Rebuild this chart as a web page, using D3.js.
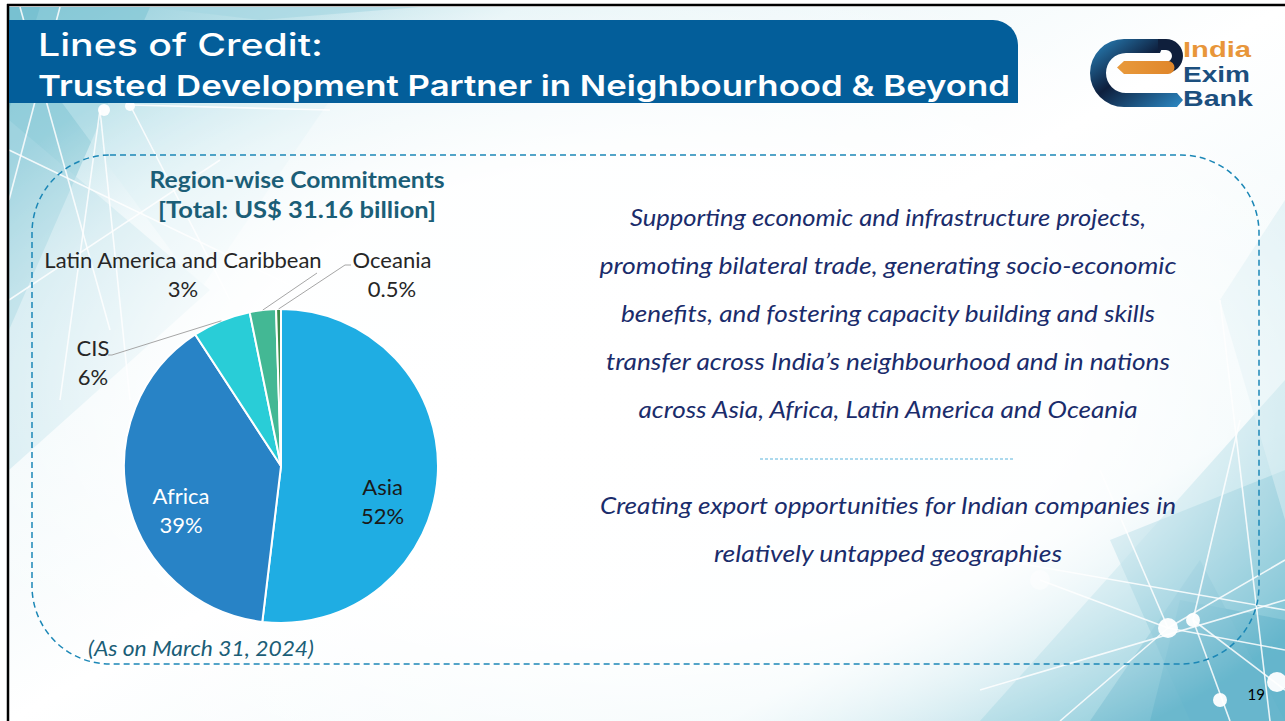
<!DOCTYPE html>
<html>
<head>
<meta charset="utf-8">
<script src="https://cdn.jsdelivr.net/npm/d3@7"></script>
<style>
  html, body { margin: 0; padding: 0; background: #fff; }
  svg { display: block; }
</style>
</head>
<body>
<div id="chart"></div>
<script>
// chart data
var regions = ["Asia", "Africa", "CIS", "Latin America and Caribbean", "Oceania"];
var shares = [51.9, 38.9, 6.0, 2.7, 0.5];
var shareLabels = ["52%", "39%", "6%", "3%", "0.5%"];
var sliceColors = ["#1fade3", "#2883c6", "#29cdd7", "#43b894", "#3d8c4b"];

var titleLines = ["Lines of Credit:", "Trusted Development Partner in Neighbourhood & Beyond"];
var chartTitle = ["Region-wise Commitments", "[Total: US$ 31.16 billion]"];
var bulletText = [
  "Supporting economic and infrastructure projects,",
  "promoting bilateral trade, generating socio-economic",
  "benefits, and fostering capacity building and skills",
  "transfer across India\u2019s neighbourhood and in nations",
  "across Asia, Africa, Latin America and Oceania"
];
var bulletText2 = [
  "Creating export opportunities for Indian companies in",
  "relatively untapped geographies"
];
var footnote = "(As on March 31, 2024)";
var pageNo = "19";

// measured text widths in the slide (px)
var bulletWidths = [516, 577, 534, 564, 499];
var bullet2Widths = [576, 348];
var chartTitleWidths = [295, 278];

var W = 1285, H = 721;
var svg = d3.select("#chart").append("svg").attr("width", W).attr("height", H);
var defs = svg.append("defs");

// ---- background decoration ----
var bg = defs.append("linearGradient").attr("id", "bgGrad")
  .attr("x1", "0").attr("y1", "0").attr("x2", "1").attr("y2", "1");
bg.append("stop").attr("offset", "0").attr("stop-color", "#8ccbd9");
bg.append("stop").attr("offset", "0.2").attr("stop-color", "#e6f4f7");
bg.append("stop").attr("offset", "0.5").attr("stop-color", "#ffffff");
bg.append("stop").attr("offset", "0.78").attr("stop-color", "#eef8fa");
bg.append("stop").attr("offset", "1").attr("stop-color", "#7cc2d4");
svg.append("rect").attr("x", 9).attr("y", 7).attr("width", W - 9).attr("height", H - 7)
  .attr("fill", "url(#bgGrad)");

var deco = svg.append("g");
var polys = [
  [[9, 7], [150, 7], [9, 330]],
  [[9, 120], [210, 290], [9, 470]],
  [[60, 100], [330, 100], [200, 290]],
  [[9, 7], [40, 7], [9, 110]],
  [[1285, 380], [1285, 721], [980, 721]],
  [[1110, 540], [1285, 470], [1285, 721], [1190, 721]],
  [[1180, 600], [1285, 620], [1285, 721], [1150, 721]],
  [[1220, 300], [1285, 200], [1285, 520]],
  [[1090, 721], [1200, 560], [1285, 721]],
  [[150, 7], [420, 7], [260, 20]]
];
var polyFill = ["#7fc4d4", "#a9d8e3", "#c9e8ef", "#6fbccd", "#8ccbdb", "#6fbcd0", "#5aafc7", "#cfeaf0", "#6ab8cd", "#a4d5e1"];
var polyOp = [0.6, 0.5, 0.45, 0.6, 0.6, 0.65, 0.65, 0.5, 0.6, 0.6];
deco.selectAll("polygon").data(polys).enter().append("polygon")
  .attr("points", function(d) { return d.map(function(p) { return p.join(","); }).join(" "); })
  .attr("fill", function(d, i) { return polyFill[i]; })
  .attr("opacity", function(d, i) { return polyOp[i]; });

var wlines = [
  [20, 7, 110, 330], [60, 7, 9, 200], [9, 150, 300, 290], [100, 110, 130, 400],
  [130, 105, 330, 110], [100, 110, 60, 400], [9, 300, 220, 160], [130, 105, 230, 300],
  [1000, 560, 1285, 610], [1168, 628, 1285, 560], [1168, 628, 1060, 721], [1193, 620, 1285, 690],
  [1193, 620, 1230, 721], [1040, 580, 1168, 628], [1100, 470, 1168, 628], [1240, 420, 1193, 620],
  [1168, 628, 1285, 650], [980, 690, 1285, 600], [1220, 300, 1270, 721]
];
deco.selectAll("line").data(wlines).enter().append("line")
  .attr("x1", function(d) { return d[0]; }).attr("y1", function(d) { return d[1]; })
  .attr("x2", function(d) { return d[2]; }).attr("y2", function(d) { return d[3]; })
  .attr("stroke", "#ffffff").attr("stroke-width", 1.6).attr("opacity", 0.85);
var dots = [[104, 110, 6], [130, 106, 5], [1168, 628, 10], [1193, 620, 7], [1277, 682, 10], [1040, 580, 10], [1220, 700, 7]];
deco.selectAll("circle").data(dots).enter().append("circle")
  .attr("cx", function(d) { return d[0]; }).attr("cy", function(d) { return d[1]; })
  .attr("r", function(d) { return d[2]; })
  .attr("fill", "#ffffff").attr("opacity", function(d, i) { return i === 5 ? 0.5 : 0.95; });

// white wash over the content area so the middle stays light
var wash = defs.append("radialGradient").attr("id", "wash")
  .attr("cx", "0.5").attr("cy", "0.55").attr("r", "0.6");
wash.append("stop").attr("offset", "0.55").attr("stop-color", "#fff").attr("stop-opacity", 0.95);
wash.append("stop").attr("offset", "1").attr("stop-color", "#fff").attr("stop-opacity", 0);
svg.append("rect").attr("x", 9).attr("y", 7).attr("width", W - 9).attr("height", H - 7)
  .attr("fill", "url(#wash)");

// slide border
svg.append("line").attr("x1", 7).attr("x2", W).attr("y1", 5).attr("y2", 5)
  .attr("stroke", "#000").attr("stroke-width", 2.5);
svg.append("line").attr("x1", 8).attr("x2", 8).attr("y1", 4).attr("y2", H)
  .attr("stroke", "#000").attr("stroke-width", 2.5);

// ---- title banner ----
svg.append("path")
  .attr("d", "M9,20 H993 A25,25 0 0 1 1018,45 V103 H9 Z")
  .attr("fill", "#035e9a");
svg.append("text").attr("x", 38).attr("y", 56)
  .attr("font-family", "Inter, 'Open Sans', sans-serif").attr("font-weight", 500)
  .attr("font-size", 31).attr("fill", "#fff")
  .attr("textLength", 285).attr("lengthAdjust", "spacingAndGlyphs")
  .text(titleLines[0]);
svg.append("text").attr("x", 38).attr("y", 96)
  .attr("font-family", "Inter, 'Open Sans', sans-serif").attr("font-weight", 600)
  .attr("font-size", 29).attr("fill", "#fff")
  .attr("textLength", 972).attr("lengthAdjust", "spacingAndGlyphs")
  .text(titleLines[1]);

// ---- logo ----
var logo = svg.append("g");
var lg = defs.append("linearGradient").attr("id", "logoGrad")
  .attr("x1", "0").attr("y1", "0").attr("x2", "1").attr("y2", "1");
lg.append("stop").attr("offset", "0").attr("stop-color", "#2b8ac4");
lg.append("stop").attr("offset", "0.45").attr("stop-color", "#0e1f3d");
lg.append("stop").attr("offset", "1").attr("stop-color", "#2c8ac6");
var og = defs.append("linearGradient").attr("id", "orGrad")
  .attr("x1", "0").attr("y1", "0").attr("x2", "1").attr("y2", "0");
og.append("stop").attr("offset", "0").attr("stop-color", "#e89a3c");
og.append("stop").attr("offset", "1").attr("stop-color", "#e0862a");
logo.append("path")
  .attr("d", "M1166,39 H1124 A34,34 0 0 0 1124,107 H1177 L1183,100 L1177,93 H1126 A20,20 0 0 1 1126,53 H1160 Z")
  .attr("fill", "url(#logoGrad)");
logo.append("path")
  .attr("d", "M1158,39 H1166 A17,17 0 0 1 1166,73 H1158 V62 H1166 A6,6 0 0 0 1166,50 H1158 Z")
  .attr("fill", "#0f1f3c");
logo.append("path")
  .attr("d", "M1117,67.5 L1124,61 H1168 A6.5,6.5 0 0 1 1168,74 H1124 Z")
  .attr("fill", "url(#orGrad)");
var logoWords = ["India", "Exim", "Bank"];
var logoCols = ["#e8963a", "#1c4f7e", "#1c4f7e"];
var logoLens = [68, 67, 70];
logo.selectAll("text.lw").data(logoWords).enter().append("text")
  .attr("class", "lw")
  .attr("x", 1183).attr("y", function(d, i) { return 57 + i * 24.5; })
  .attr("font-family", "'Liberation Sans', Arial, sans-serif").attr("font-weight", 700)
  .attr("font-size", 21.5)
  .attr("fill", function(d, i) { return logoCols[i]; })
  .attr("textLength", function(d, i) { return logoLens[i]; })
  .attr("lengthAdjust", "spacingAndGlyphs")
  .text(function(d) { return d; });

// ---- dashed frame ----
svg.append("rect").attr("x", 32).attr("y", 155).attr("width", 1227).attr("height", 509)
  .attr("rx", 78).attr("ry", 78)
  .attr("fill", "none").attr("stroke", "#1b87b6").attr("stroke-width", 1.5)
  .attr("stroke-dasharray", "6,4");

// ---- chart title ----
svg.append("g").selectAll("text").data(chartTitle).enter().append("text")
  .attr("x", 297).attr("y", function(d, i) { return 188 + i * 30; })
  .attr("text-anchor", "middle")
  .attr("font-family", "Lato, sans-serif").attr("font-weight", 700)
  .attr("font-size", 23).attr("fill", "#1b5e77")
  .attr("textLength", function(d, i) { return chartTitleWidths[i]; })
  .attr("lengthAdjust", "spacingAndGlyphs")
  .text(function(d) { return d; });

// ---- pie ----
var cx = 281, cy = 466, R = 157;
var pie = d3.pie().sort(null).value(function(d) { return d; });
var arcs = pie(shares);
var arc = d3.arc().innerRadius(0).outerRadius(R);
var pg = svg.append("g").attr("transform", "translate(" + cx + "," + cy + ")");
pg.selectAll("path").data(arcs).enter().append("path")
  .attr("d", arc)
  .attr("fill", function(d, i) { return sliceColors[i]; })
  .attr("stroke", "#fff").attr("stroke-width", 2);

// label layout: inside labels sit near the centroid, outside ones at a fixed spot with a leader
var labelFont = "Lato, sans-serif";
var labelSize = 22;
var inside = [
  {i: 0, dx: -5, dy: 23, col: "#1a1a1a"},
  {i: 1, dx: 4, dy: 14, col: "#ffffff"}
];
var labelArc = d3.arc().innerRadius(R * 0.68).outerRadius(R * 0.68);
inside.forEach(function(o) {
  var c = labelArc.centroid(arcs[o.i]);
  var t = pg.append("text").attr("text-anchor", "middle")
    .attr("font-family", labelFont).attr("font-size", labelSize).attr("fill", o.col);
  t.append("tspan").attr("x", c[0] + o.dx).attr("y", c[1] + o.dy).text(regions[o.i]);
  t.append("tspan").attr("x", c[0] + o.dx).attr("y", c[1] + o.dy + 29).text(shareLabels[o.i]);
});

// outside labels: label centre, elbow point and end of the leader (relative to pie centre)
var outside = [
  {i: 2, lx: -188, ly: -111, ex: -169, ey: -111, hx: -173},
  {i: 3, lx: -98, ly: -199, ex: 36, ey: -193, hx: 36},
  {i: 4, lx: 111, ly: -199, ex: 64, ey: -201, hx: 70}
];
outside.forEach(function(o) {
  var a = arcs[o.i];
  var mid = (a.startAngle + a.endAngle) / 2;
  var px = Math.sin(mid) * R, py = -Math.cos(mid) * R;
  pg.append("polyline")
    .attr("points", [[px, py], [o.ex, o.ey], [o.hx, o.ey]].map(function(p) { return p.join(","); }).join(" "))
    .attr("fill", "none").attr("stroke", "#a6a6a6").attr("stroke-width", 1);
  var t = pg.append("text").attr("text-anchor", "middle")
    .attr("font-family", labelFont).attr("font-size", labelSize).attr("fill", "#262626");
  t.append("tspan").attr("x", o.lx).attr("y", o.ly + 1).text(regions[o.i]);
  t.append("tspan").attr("x", o.lx).attr("y", o.ly + 30).text(shareLabels[o.i]);
});

// ---- right side text ----
var txt = svg.append("g").attr("font-family", "Lato, sans-serif").attr("font-style", "italic")
  .attr("font-size", 23).attr("fill", "#1a2c6b").attr("text-anchor", "middle");
txt.selectAll("text.b1").data(bulletText).enter().append("text")
  .attr("class", "b1").attr("x", 888).attr("y", function(d, i) { return 226 + i * 48; })
  .attr("textLength", function(d, i) { return bulletWidths[i]; })
  .attr("lengthAdjust", "spacingAndGlyphs")
  .text(function(d) { return d; });
svg.append("line").attr("x1", 760).attr("x2", 1015).attr("y1", 459).attr("y2", 459)
  .attr("stroke", "#5ab4dc").attr("stroke-width", 1).attr("stroke-dasharray", "3,2");
txt.selectAll("text.b2").data(bulletText2).enter().append("text")
  .attr("class", "b2").attr("x", 888).attr("y", function(d, i) { return 514 + i * 48; })
  .attr("textLength", function(d, i) { return bullet2Widths[i]; })
  .attr("lengthAdjust", "spacingAndGlyphs")
  .text(function(d) { return d; });

// ---- footnote & page number ----
svg.append("text").attr("x", 88).attr("y", 656)
  .attr("font-family", "Lato, sans-serif").attr("font-style", "italic")
  .attr("font-size", 22).attr("fill", "#1b5e77")
  .attr("textLength", 226).attr("lengthAdjust", "spacingAndGlyphs")
  .text(footnote);
svg.append("text").attr("x", 1265).attr("y", 700).attr("text-anchor", "end")
  .attr("font-family", "Lato, sans-serif").attr("font-size", 15).attr("fill", "#000").text(pageNo);
</script>
</body>
</html>
